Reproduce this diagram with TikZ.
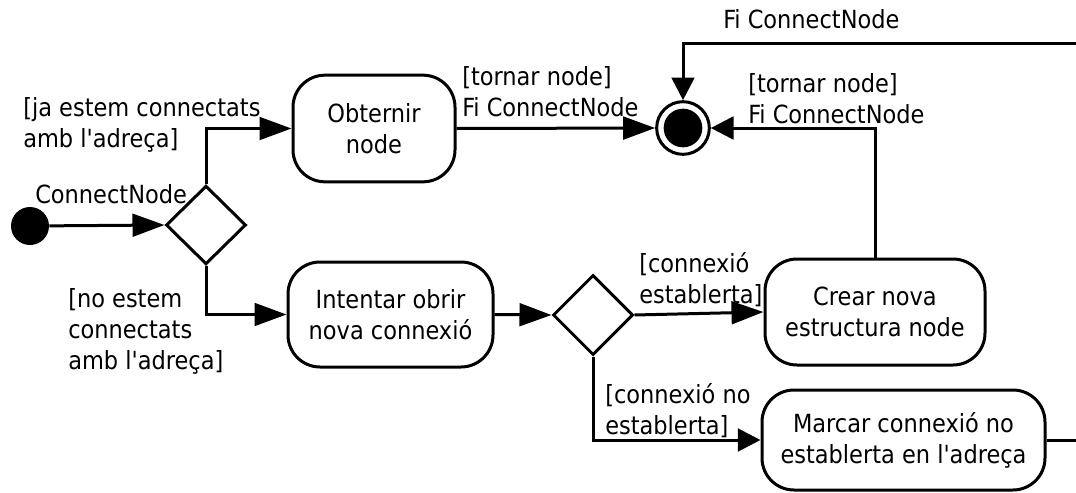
\documentclass[tikz,border=0pt]{standalone}
\usepackage{fontspec}
\setmainfont{DejaVu Sans Condensed}[Ligatures=TeXOff]
\usetikzlibrary{arrows.meta,shapes.geometric}

\tikzset{
  every node/.style={font={\fontsize{18.75pt}{23.25pt}\selectfont}},
  flow/.style={line width=2.25pt, -{Triangle[length=24pt,width=17pt]}},
  shortflow/.style={line width=2.25pt, -{Triangle[length=17pt,width=17pt]}},
  action/.style={draw, line width=2.25pt, rounded corners=24pt, align=center,
    inner sep=0pt},
  decision/.style={draw, line width=2.25pt, diamond, inner sep=0pt,
    minimum width=60pt, minimum height=59pt},
  % anchored at the baseline of the last line
  guard/.style={anchor=base west, align=left, inner sep=0pt}
}

\begin{document}
\begin{tikzpicture}[x=0.75pt, y=-0.75pt]
  \useasboundingbox (0,0) rectangle (1076,493);
  \clip (0,0) rectangle (1076,493);

  % start and end points
  \node[circle, fill=black, minimum size=28.5pt, inner sep=0pt] (start) at (30,226) {};
  \node[circle, draw, line width=2.25pt, minimum size=39.5pt, inner sep=0pt] (final) at (683,128) {};
  \fill (final.center) circle (14.5pt);

  % decisions
  \node[decision] (d1) at (206,225) {};
  \node[decision, minimum width=60pt, minimum height=60pt] (d2) at (593,315) {};

  % actions
  \node[action, minimum width=121.5pt, minimum height=80pt] (obtenir) at (374,128.5) {Obternir\\node};
  \node[action, minimum width=153.75pt, minimum height=78.75pt] (intentar) at (390.5,314.5) {Intentar obrir\\nova connexió};
  \node[action, minimum width=165pt, minimum height=79.5pt] (crear) at (875,312) {Crear nova\\estructura node};
  \node[action, minimum width=212.25pt, minimum height=75pt] (marcar) at (903.5,440) {Marcar connexió no\\establerta en l'adreça};

  % guards and labels
  \node[guard] (lconnect) at (35,203) {ConnectNode};
  \node[guard] (lja) at (23,147) {[ja estem connectats\\amb l'adreça]};
  \node[guard] (lno) at (68,369) {[no estem\\connectats\\amb l'adreça]};
  \node[guard] (ltornarA) at (462,116) {[tornar node]\\Fi ConnectNode};
  \node[guard] (lfi) at (723,28) {Fi ConnectNode};
  \node[guard] (ltornarB) at (748,123) {[tornar node]\\Fi ConnectNode};
  \node[guard] (lest) at (639,303) {[connexió\\establerta]};
  \node[guard] (lnoest) at (605,434) {[connexió no\\establerta]};

  % connectors
  \coordinate (loopB) at (1100,440);
  \coordinate (loopT) at (1100,43);
  \draw[flow] (start) -- (d1.west);
  \draw[flow] (d1.north) |- (obtenir.west);
  \draw[flow] (d1.south) |- (intentar.west);
  \draw[flow] (obtenir.east) -- (final.west);
  \draw[flow] (intentar.east) -- (d2.west);
  \draw[flow] (d2.east) -- (crear.west);
  \draw[shortflow] (d2.south) |- (marcar.west);
  \draw[shortflow] (crear.north) |- (final.east);
  \draw[shortflow] (marcar.east) -- (loopB) -- (loopT) -| (final.north);
\end{tikzpicture}
\end{document}
